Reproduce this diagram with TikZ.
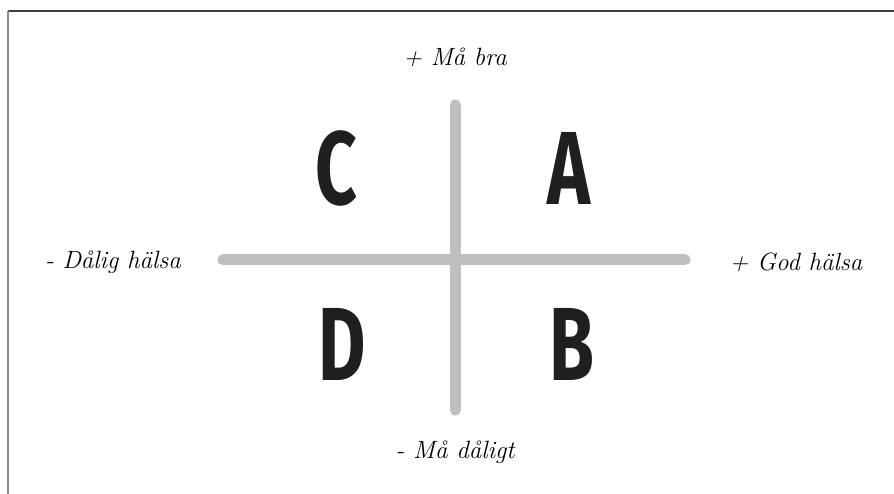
\documentclass[tikz,border=0pt]{standalone}
\usepackage{fontspec}
\usepackage{graphicx}
\newfontfamily\bigfont{Fira Sans}
\tikzset{
  bar/.style={line width=11pt, line cap=round, draw=gray!50},
  axislabel/.style={font=\fontsize{25}{29}\selectfont\itshape, inner sep=0pt},
  quad/.style={font=\bigfont\bfseries\fontsize{104}{110}\selectfont, inner sep=0pt, text=black!88, xscale=0.70},
  frame/.style={line width=1.6pt, draw=black!75}
}
\begin{document}
\begin{tikzpicture}[x=1pt,y=-1pt]
\useasboundingbox (0,0) rectangle (894,494);
\fill[white] (0,0) rectangle (894,494);
% frame
\coordinate (fb) at (8,494);
\coordinate (fc) at (8,11);
\coordinate (fr) at (894,11);
\draw[frame] (fr) -- (fc);
\draw[line width=2pt, draw=black!45] (fc) -- (fb);
% axes
\coordinate (hl) at (223,260);
\coordinate (hr) at (685,260);
\coordinate (vt) at (455,105);
\coordinate (vb) at (455,410);
\draw[bar] (hl) -- (hr);
\draw[bar] (vt) -- (vb);
% labels
\node[axislabel] (top) at (455,57) {+ Må bra};
\node[axislabel] (bot) at (455,452) {- Må dåligt};
\node[axislabel] (left) at (113,262) {- Dålig hälsa};
\node[axislabel] (right) at (796,262) {+ God hälsa};
% quadrants
\node[quad] (C) at (336,168) {C};
\node[quad] (A) at (569,168) {A};
\node[quad] (D) at (342,344) {D};
\node[quad] (B) at (572,344) {B};
\end{tikzpicture}
\end{document}
